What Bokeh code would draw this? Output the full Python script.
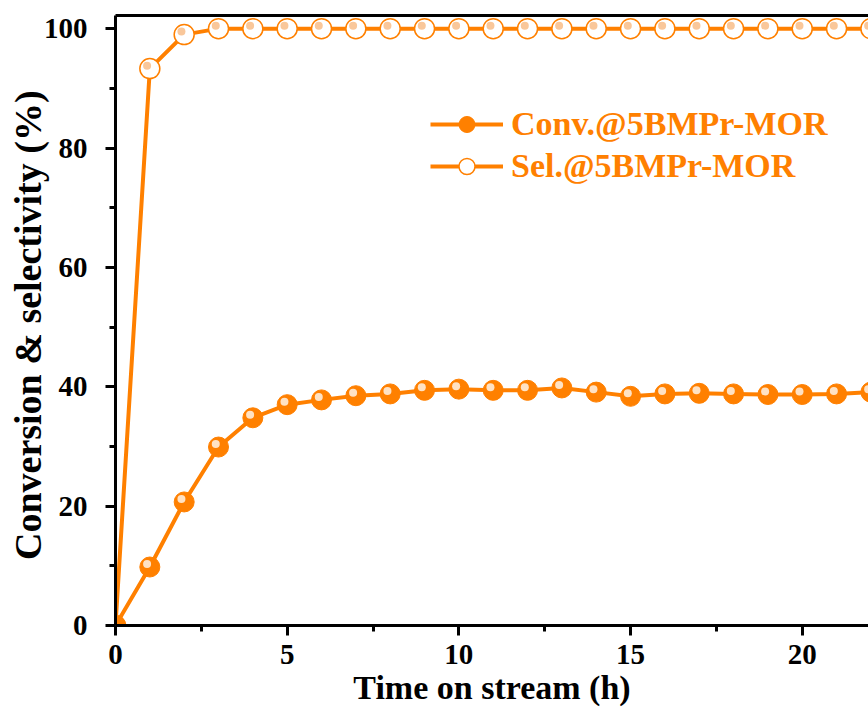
from bokeh.plotting import figure
from bokeh.models import ColumnDataSource, LinearAxis, Legend, LegendItem, FixedTicker
from bokeh.transform import dodge
from bokeh.embed import file_html
from bokeh.resources import INLINE

# ---- data ----
time_h = [0, 1, 2, 3, 4, 5, 6, 7, 8, 9, 10, 11, 12, 13, 14, 15, 16, 17, 18, 19, 20, 21, 22]
conversion = [0, 9.8, 20.7, 29.9, 34.8, 37.0, 37.8, 38.5, 38.8, 39.4, 39.6, 39.4, 39.4, 39.8,
              39.1, 38.4, 38.8, 38.9, 38.8, 38.7, 38.7, 38.8, 39.1]
selectivity = [0, 93.3, 99.0, 100, 100, 100, 100, 100, 100, 100, 100, 100, 100, 100,
               100, 100, 100, 100, 100, 100, 100, 100, 100]
x_ticks = [0, 5, 10, 15, 20]
y_ticks = [0, 20, 40, 60, 80, 100]
conv_label = "Conv.@5BMPr-MOR"
sel_label = "Sel.@5BMPr-MOR"

ORANGE = "#FF8000"
FONT = "Liberation Serif"

src = ColumnDataSource(dict(x=time_h, conv=conversion, sel=selectivity))

p = figure(width=868, height=718, x_range=(0, 21.93), y_range=(0, 102.2),
           output_backend="svg", toolbar_location=None,
           min_border_left=115, min_border_right=0, min_border_top=15, min_border_bottom=93)
p.grid.visible = False
p.outline_line_color = None
p.background_fill_color = "white"
p.border_fill_color = "white"

# series
sel_line = p.line("x", "sel", source=src, line_color=ORANGE, line_width=4)
sel_pts = p.scatter("x", "sel", source=src, size=20, fill_color="white",
                    line_color=ORANGE, line_width=1.5)
p.scatter(dodge("x", -0.08, range=p.x_range), dodge("sel", 0.5, range=p.y_range),
          source=src, size=8, fill_color="#F9C79A", line_color=None)

conv_line = p.line("x", "conv", source=src, line_color=ORANGE, line_width=4)
conv_pts = p.scatter("x", "conv", source=src, size=20, fill_color=ORANGE, line_color=ORANGE,
                     line_width=1)
p.scatter(dodge("x", -0.08, range=p.x_range), dodge("conv", 0.5, range=p.y_range),
          source=src, size=8, fill_color="#FFE2C4", line_color=None)

# axes
def style_axis(ax):
    ax.axis_line_width = 3
    ax.axis_line_color = "black"
    ax.major_tick_line_width = 3
    ax.minor_tick_line_width = 3
    ax.major_tick_in = 0
    ax.minor_tick_in = 0
    ax.major_tick_out = 10
    ax.minor_tick_out = 6
    ax.major_label_text_font = FONT
    ax.major_label_text_font_style = "bold"
    ax.major_label_text_font_size = "29px"
    ax.major_label_text_color = "black"
    ax.axis_label_text_font = FONT
    ax.axis_label_text_font_style = "bold"
    ax.axis_label_text_color = "black"

xa = p.xaxis[0]
style_axis(xa)
xa.ticker = FixedTicker(ticks=x_ticks, minor_ticks=[2.5, 7.5, 12.5, 17.5])
xa.axis_label = "Time on stream (h)"
xa.axis_label_text_font_size = "34px"
xa.major_label_standoff = 9
xa.axis_label_standoff = 2

ya = p.yaxis[0]
style_axis(ya)
ya.ticker = FixedTicker(ticks=y_ticks, minor_ticks=[10, 30, 50, 70, 90])
ya.axis_label = "Conversion &  selectivity (%)"
ya.axis_label_text_font_size = "38px"
ya.major_label_standoff = 18
ya.axis_label_standoff = -8

top = LinearAxis(axis_line_width=3, axis_line_color="black",
                 major_tick_line_color=None, minor_tick_line_color=None,
                 major_label_text_font_size="0px", major_tick_out=0, minor_tick_out=0,
                 major_label_standoff=0)
top.ticker = FixedTicker(ticks=[])
p.add_layout(top, "above")

legend = Legend(items=[LegendItem(label=conv_label, renderers=[conv_line, conv_pts]),
                       LegendItem(label=sel_label, renderers=[sel_line, sel_pts])],
                location=(315, 439), border_line_color=None, background_fill_alpha=0,
                padding=0, margin=0, spacing=2,
                glyph_width=73, glyph_height=40, label_height=40, label_standoff=8,
                label_text_font=FONT, label_text_font_style="bold",
                label_text_font_size="34px", label_text_color=ORANGE)
p.add_layout(legend, "center")

open("out.html", "w").write(file_html(p, INLINE))
